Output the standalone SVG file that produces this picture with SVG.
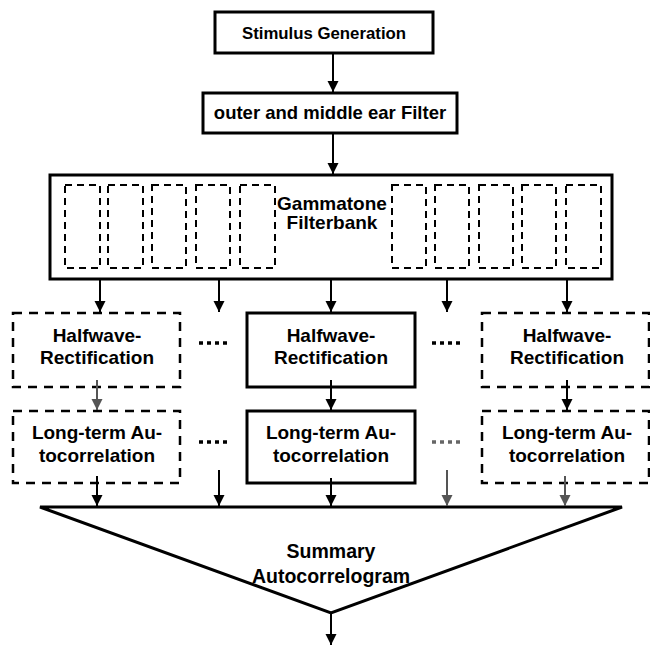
<svg xmlns="http://www.w3.org/2000/svg" width="650" height="646" viewBox="0 0 650 646">
<style>
.box{fill:none;stroke:#000;stroke-width:3}
.dbox{fill:none;stroke:#000;stroke-width:2.5;stroke-dasharray:9 7}
.fb{fill:none;stroke:#000;stroke-width:2;stroke-dasharray:7 5}
.t{font-family:"Liberation Sans",Arial,sans-serif;font-weight:bold;font-size:19px;text-anchor:middle;fill:#000}
.a{stroke:#000;stroke-width:2;fill:none;marker-end:url(#ah)}
.ag{stroke:#555;stroke-width:2;fill:none;marker-end:url(#ahg)}
.dots{stroke:#000;stroke-width:3.5;stroke-dasharray:4 4;fill:none}
</style>
<defs>
<marker id="ah" viewBox="0 0 10 10" refX="10" refY="5" markerWidth="11" markerHeight="12" markerUnits="userSpaceOnUse" orient="auto"><path d="M0,0 L10,5 L0,10 z" fill="#000"/></marker>
<marker id="ahg" viewBox="0 0 10 10" refX="10" refY="5" markerWidth="11" markerHeight="12" markerUnits="userSpaceOnUse" orient="auto"><path d="M0,0 L10,5 L0,10 z" fill="#555"/></marker>
</defs>
<rect width="650" height="646" fill="#fff"/>
<g id="stimulus">
<rect class="box" x="215" y="12" width="218" height="41"/>
<text class="t" x="324" y="39" style="font-size:16.8px">Stimulus Generation</text>
</g>
<g id="earfilter">
<rect class="box" x="203" y="93" width="254" height="40"/>
<text class="t" x="330" y="119" style="font-size:18.5px">outer and middle ear Filter</text>
</g>
<g id="gammatone">
<rect class="box" x="50" y="175" width="562" height="104"/>
<rect class="fb" x="65" y="185" width="35" height="83"/>
<rect class="fb" x="108" y="185" width="35" height="83"/>
<rect class="fb" x="152" y="185" width="34" height="83"/>
<rect class="fb" x="196" y="185" width="34" height="83"/>
<rect class="fb" x="240" y="185" width="35" height="83"/>
<rect class="fb" x="392" y="185" width="34" height="83"/>
<rect class="fb" x="435" y="185" width="34" height="83"/>
<rect class="fb" x="479" y="185" width="34" height="83"/>
<rect class="fb" x="522" y="185" width="34" height="83"/>
<rect class="fb" x="566" y="185" width="35" height="83"/>
<text class="t" x="332" y="210">Gammatone</text>
<text class="t" x="332" y="229">Filterbank</text>
</g>
<g id="hw-left">
<rect class="dbox" x="13" y="313" width="167" height="74"/>
<text class="t" x="97" y="342">Halfwave-</text>
<text class="t" x="97" y="364">Rectification</text>
</g>
<g id="hw-center">
<rect class="box" x="247" y="313" width="168" height="74"/>
<text class="t" x="331" y="342">Halfwave-</text>
<text class="t" x="331" y="364">Rectification</text>
</g>
<g id="hw-right">
<rect class="dbox" x="482" y="313" width="167" height="74"/>
<text class="t" x="567" y="342">Halfwave-</text>
<text class="t" x="567" y="364">Rectification</text>
</g>
<g id="ac-left">
<rect class="dbox" x="13" y="411" width="167" height="72"/>
<text class="t" x="97" y="439">Long-term Au-</text>
<text class="t" x="97" y="462">tocorrelation</text>
</g>
<g id="ac-center">
<rect class="box" x="247" y="411" width="168" height="72"/>
<text class="t" x="331" y="439">Long-term Au-</text>
<text class="t" x="331" y="462">tocorrelation</text>
</g>
<g id="ac-right">
<rect class="dbox" x="482" y="411" width="167" height="72"/>
<text class="t" x="567" y="439">Long-term Au-</text>
<text class="t" x="567" y="462">tocorrelation</text>
</g>
<g id="ellipses">
<line class="dots" x1="199" y1="343" x2="231" y2="343"/>
<line class="dots" x1="432" y1="343" x2="464" y2="343"/>
<line class="dots" x1="199" y1="442" x2="227" y2="442"/>
<line class="dots" x1="432" y1="442" x2="464" y2="442" style="stroke:#666"/>
</g>
<g id="summary">
<polygon points="40,507 622,507 331,613" fill="none" stroke="#000" stroke-width="3" stroke-linejoin="miter"/>
<text class="t" x="331" y="558" style="font-size:19.5px">Summary</text>
<text class="t" x="331" y="583" style="font-size:19.5px">Autocorrelogram</text>
</g>
<g id="connectors">
<line class="a" x1="333" y1="54" x2="333" y2="92"/>
<line class="a" x1="333" y1="134" x2="333" y2="174"/>
<line class="a" x1="100" y1="280" x2="100" y2="312"/>
<line class="a" x1="219" y1="280" x2="219" y2="312"/>
<line class="a" x1="331" y1="280" x2="331" y2="312"/>
<line class="a" x1="447" y1="280" x2="447" y2="312"/>
<line class="a" x1="567" y1="280" x2="567" y2="312"/>
<line class="ag" x1="97" y1="380" x2="97" y2="410"/>
<line class="a" x1="331" y1="380" x2="331" y2="410"/>
<line class="a" x1="567" y1="380" x2="567" y2="410"/>
<line class="a" x1="97" y1="476" x2="97" y2="506"/>
<line class="a" x1="219" y1="470" x2="219" y2="506"/>
<line class="a" x1="331" y1="478" x2="331" y2="506"/>
<line class="ag" x1="447" y1="470" x2="447" y2="506"/>
<line class="ag" x1="565" y1="476" x2="565" y2="506"/>
<line class="a" x1="331" y1="613" x2="331" y2="645"/>
</g>
</svg>
